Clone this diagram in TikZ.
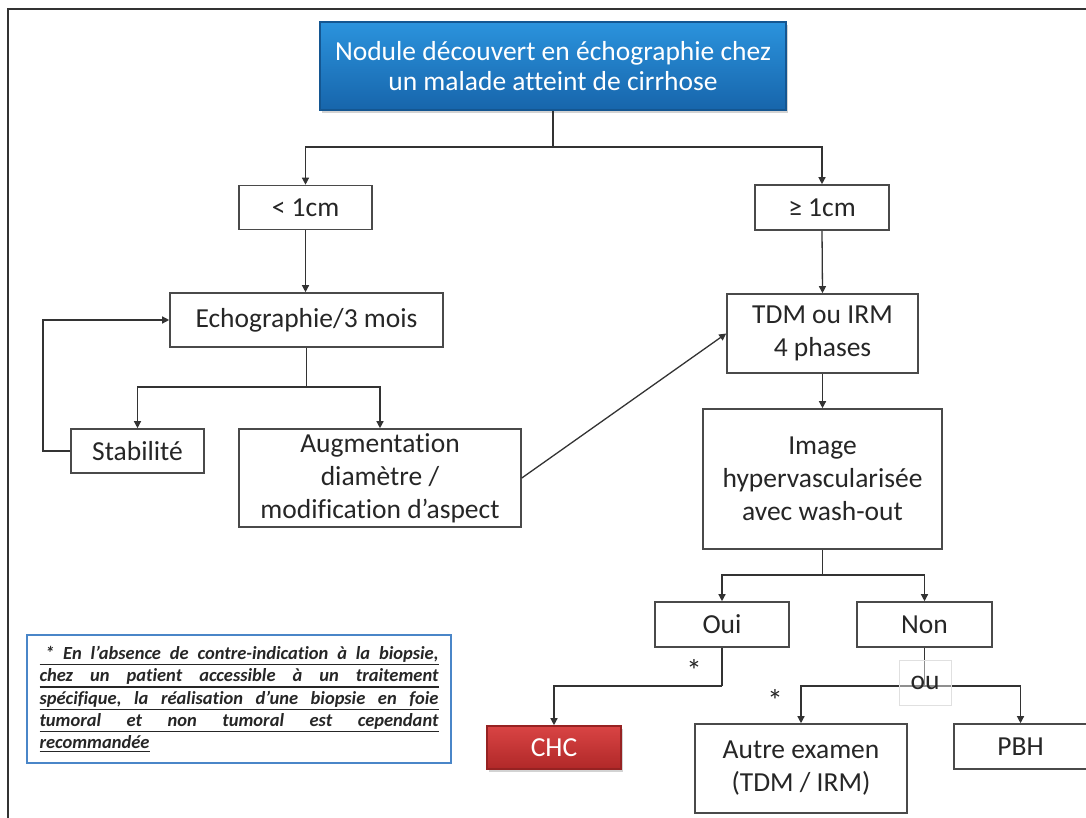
\documentclass[tikz,border=0pt]{standalone}
\usepackage{fontspec}
\setmainfont{Carlito}[Ligatures=NoCommon]
\usetikzlibrary{arrows.meta,shadows}
\definecolor{lineC}{HTML}{333333}
\definecolor{boxC}{HTML}{4A4A4A}
\definecolor{txtC}{HTML}{262626}
\definecolor{blueT}{HTML}{2B93DD}
\definecolor{blueB}{HTML}{1765AB}
\definecolor{redT}{HTML}{D94444}
\definecolor{redB}{HTML}{B02828}
\definecolor{noteC}{HTML}{4A86C8}
\newcommand{\ulline}[1]{\leavevmode\vtop{\hbox{#1}\kern1.6pt\hrule height 1.2pt}}
\newcommand{\jline}[1]{\ulline{\hbox to 399pt{#1}}}
\begin{document}
\begin{tikzpicture}[x=1pt,y=-1pt,
  box/.style={draw=boxC, line width=1.6pt, fill=white, align=center, inner sep=0pt, text=txtC, font=\fontsize{27.5}{33}\selectfont},
  conn/.style={draw=lineC, line width=1.3pt},
  arr/.style={conn, -{Triangle[length=7pt,width=7pt]}},
  lbl/.style={text=txtC, font=\fontsize{31}{33}\selectfont, inner sep=0pt},
  oubox/.style={draw=black!12, line width=1pt, fill=white, fill opacity=0.45, text opacity=1, text=txtC, font=\fontsize{27.5}{33}\selectfont, minimum width=52, minimum height=45, inner sep=0pt},
  shadowed/.style={drop shadow={opacity=0.35, shadow xshift=2pt, shadow yshift=-3pt}}
]
\useasboundingbox (0,0) rectangle (1086,818);
\coordinate (fa) at (1086,9);
\coordinate (fb) at (8,9);
\coordinate (fc) at (8,818);
\draw[lineC, line width=1.4pt] (fa) -- (fb) -- (fc);

\node[box, shadowed, draw=blueB!85!black, top color=blueT, bottom color=blueB, text=white, font=\fontsize{27.5}{30}\selectfont, minimum width=466, minimum height=88] (title) at (553,66) {Nodule découvert en échographie chez\\un malade atteint de cirrhose};

\node[box, minimum width=133, minimum height=44] (lt) at (305.5,207.5) {< 1cm};
\node[box, minimum width=134, minimum height=45] (ge) at (822,207.5) {≥ 1cm};
\node[box, minimum width=273, minimum height=54] (echo) at (306.5,320) {Echographie/3 mois};
\node[box, minimum width=133, minimum height=44] (stab) at (137.5,451) {Stabilité};
\node[box, minimum width=282, minimum height=98] (aug) at (380,478) {Augmentation\\diamètre /\\modification d’aspect};
\node[box, minimum width=191, minimum height=79] (tdm) at (822.5,333.5) {TDM ou IRM\\4 phases};
\node[box, minimum width=239, minimum height=140] (img) at (822.5,479) {Image\\hypervascularisée\\avec wash-out};
\node[box, minimum width=134, minimum height=45] (oui) at (722,624.5) {Oui};
\node[box, minimum width=135, minimum height=45] (non) at (924.5,624.5) {Non};
\node[box, shadowed, draw=redB!85!black, top color=redT, bottom color=redB, text=white, minimum width=134, minimum height=43] (chc) at (554,747.5) {CHC};
\node[box, minimum width=212, minimum height=89] (autre) at (801,768.5) {Autre examen\\(TDM / IRM)};
\node[box, minimum width=133, minimum height=45] (pbh) at (1020.5,746.5) {PBH};

\node[draw=noteC, line width=2pt, fill=white, minimum width=424, minimum height=128, inner sep=0pt, text width=399, align=left, text=txtC, font=\fontsize{18.5}{22.3}\selectfont\bfseries\itshape] (note) at (239,699) {\jline{\hspace*{0.3em}*\hfill En\hfill l’absence\hfill de\hfill contre-indication\hfill à\hfill la\hfill biopsie,}\\
\jline{chez\hfill un\hfill patient\hfill accessible\hfill à\hfill un\hfill traitement}\\
\jline{spécifique,\hfill la\hfill réalisation\hfill d’une\hfill biopsie\hfill en\hfill foie}\\
\jline{tumoral\hfill et\hfill non\hfill tumoral\hfill est\hfill cependant}\\
\ulline{recommandée}};

\coordinate (j1) at (553,147);
\draw[conn] (title.south) -- (j1);
\draw[arr] (j1) -| (lt.north);
\draw[arr] (j1) -| (ge.north);
\draw[arr] (lt.south) -- (echo.north -| lt.south);
\draw[arr] (ge.south) -- (tdm.north);
\draw[arr] (tdm.south) -- (img.north);

\coordinate (j2) at (306.5,387);
\draw[conn] (echo.south) -- (j2);
\draw[arr] (j2) -| (stab.north);
\draw[arr] (j2) -| (aug.north);
\coordinate (j3) at (43,0);
\draw[arr] (stab.west) -- (stab.west -| j3) |- (echo.west);
\draw[arr] (aug.east) -- (tdm.west);

\coordinate (j4) at (822.5,575);
\draw[conn] (img.south) -- (j4);
\draw[arr] (j4) -| (oui.north);
\draw[arr] (j4) -| (non.north);

\coordinate (j5) at (722,686);
\draw[conn] (oui.south) -- (j5);
\draw[arr] (j5) -| (chc.north);

\coordinate (j6) at (924.5,686);
\draw[conn] (non.south) -- (j6);
\draw[arr] (j6) -| (autre.north);
\draw[arr] (j6) -| (pbh.north);

\node[oubox] (ou) at (925,683) {ou};
\node[lbl] (s1) at (694,670) {*};
\node[lbl] (s2) at (775,700) {*};
\end{tikzpicture}
\end{document}
